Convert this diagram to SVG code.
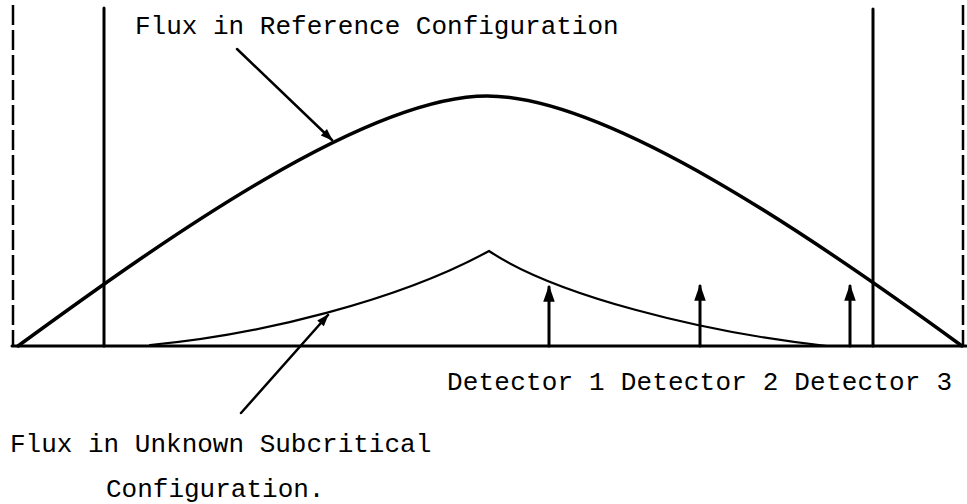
<svg xmlns="http://www.w3.org/2000/svg" width="967" height="504" viewBox="0 0 967 504">
<defs>
<style>
.t{font-family:"Liberation Mono","Courier New",monospace;font-size:26px;fill:#000}
.ln{stroke:#000;fill:none;stroke-linecap:round}
.dash{stroke:#000;stroke-width:2.5;stroke-dasharray:20 5;fill:none}
</style>
<marker id="ah" viewBox="0 0 10 10" refX="9" refY="5" markerWidth="6" markerHeight="5" orient="auto" markerUnits="strokeWidth">
<path d="M0,1.5 L10,5 L0,8.5 Z" fill="#000"/>
</marker>
<marker id="ah2" viewBox="0 0 10 10" refX="9" refY="5" markerWidth="7" markerHeight="5.5" orient="auto" markerUnits="strokeWidth">
<path d="M0,1.5 L10,5 L0,8.5 Z" fill="#000"/>
</marker>
</defs>
<rect width="967" height="504" fill="#fff"/>
<g id="frame">
<line class="dash" x1="13" y1="5" x2="13" y2="345"/>
<line class="dash" x1="963" y1="5" x2="963" y2="345"/>
<line class="ln" stroke-width="3" x1="104" y1="8" x2="104" y2="346"/>
<line class="ln" stroke-width="3" x1="873" y1="9" x2="873" y2="346"/>
<line class="ln" stroke-width="3" x1="12" y1="346" x2="966" y2="346"/>
</g>
<g id="reference-flux">
<path class="ln" stroke-width="3.5" d="M18,346 C168,236.5 367,96 487,96 C607,96 812,236.5 962,346"/>
</g>
<g id="subcritical-flux">
<path class="ln" stroke-width="2.2" d="M150,345 C260,335 400,300 489,251 C555,295 700,332 827,346"/>
</g>
<g id="detectors">
<line class="ln" stroke-width="3" x1="549" y1="346" x2="549" y2="287" marker-end="url(#ah2)"/>
<line class="ln" stroke-width="3" x1="700" y1="346" x2="700" y2="286" marker-end="url(#ah2)"/>
<line class="ln" stroke-width="3" x1="850" y1="346" x2="850" y2="286" marker-end="url(#ah2)"/>
</g>
<g id="connectors">
<line class="ln" stroke-width="2.5" x1="237" y1="49" x2="332" y2="140" marker-end="url(#ah)"/>
<line class="ln" stroke-width="2.5" x1="241" y1="413" x2="328" y2="315" marker-end="url(#ah)"/>
</g>
<g id="labels">
<text class="t" x="135" y="34">Flux in Reference Configuration</text>
<text class="t" x="447" y="390" textLength="505">Detector 1 Detector 2 Detector 3</text>
<text class="t" x="10" y="452">Flux in Unknown Subcritical</text>
<text class="t" x="106" y="497">Configuration.</text>
</g>
</svg>
